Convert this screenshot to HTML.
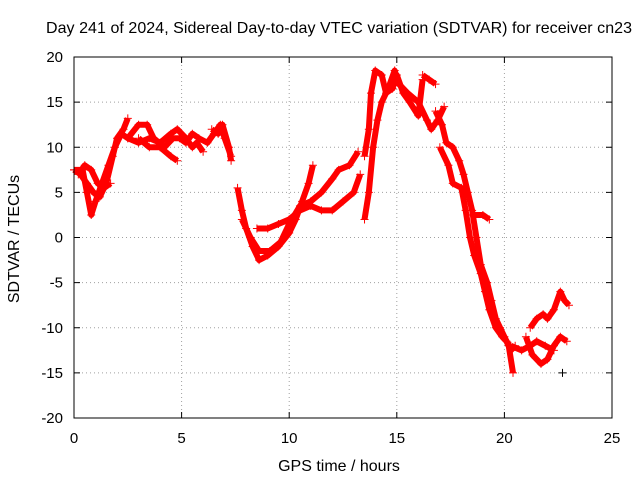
<!DOCTYPE html>
<html><head><meta charset="utf-8"><style>
body{margin:0;background:#fff;}
svg text{font-family:"Liberation Sans",sans-serif;font-size:15px;fill:#000;}
svg text.big{font-size:16px;}
</style></head><body>
<svg id="chart" width="640" height="480">
<rect width="640" height="480" fill="#fff"/>
<text class="big" x="339" y="33" text-anchor="middle" textLength="586">Day 241 of 2024, Sidereal Day-to-day VTEC variation (SDTVAR) for receiver cn23</text>
<text class="big" x="339" y="471" text-anchor="middle">GPS time / hours</text>
<text class="big" transform="translate(19,239) rotate(-90)" text-anchor="middle">SDTVAR / TECUs</text>
<g id="grid"></g><g id="ticks"></g><g id="marks"></g>
<rect x="74" y="57" width="538" height="361" fill="none" stroke="#000"/>
</svg>
<script>
const xTicks=[0,5,10,15,20,25];
const yTicks=[-20,-15,-10,-5,0,5,10,15,20];
const traces=[
[[0,7.5],[0.3,7],[0.6,6],[0.9,5],[1.2,4.5],[1.5,6],[1.8,9],[2.0,11],[2.3,12],[2.5,13.2]],
[[0,7.5],[0.4,7.5],[0.6,5],[0.8,2.5],[1.0,4],[1.3,6],[1.6,8],[1.9,10],[2.2,11.5],[2.5,11],[3,10.5],[3.5,11],[4,10.5],[4.5,11.5],[4.8,12],[5.2,11],[5.5,10],[5.7,10.5],[6,9.5]],
[[0.2,7],[0.5,8],[0.8,7.5],[1.1,6],[1.4,5.5],[1.7,6]],
[[2.5,11],[3,12.5],[3.4,12.5],[3.7,11],[4.2,10],[4.6,11],[4.9,11],[5.2,10.5],[5.5,11.5],[5.8,11],[6.2,10.5],[6.5,11.5],[6.8,12.5],[7.0,11],[7.3,9]],
[[3,11],[3.5,10],[4,10],[4.5,9],[4.8,8.5]],
[[6.4,12],[6.7,11.5],[6.9,12.5],[7.2,10],[7.3,8.5]],
[[7.6,5.5],[7.8,3],[8,1],[8.3,-1],[8.6,-2.5],[9,-2],[9.5,-1],[10,0.5],[10.3,2],[10.6,4],[10.9,6],[11.1,8]],
[[7.8,2],[8.2,0],[8.6,-1.5],[9.1,-1.5],[9.6,-0.5],[10,1.5],[10.5,3.5],[11,4],[11.5,5],[12,6.5],[12.3,7.5],[12.8,8],[13.2,9.5]],
[[8.5,1],[9,1],[9.5,1.5],[10,2],[10.5,3],[11,3.5],[11.5,3],[12,3],[12.5,4],[13,5],[13.3,7]],
[[13.5,9],[13.7,12],[13.8,16],[14,18.5],[14.3,18],[14.5,16],[14.8,16.5],[15,18],[15.3,16],[15.6,15],[16,13.5],[16.2,17.5]],
[[13.5,2],[13.7,5],[13.9,10],[14.1,13],[14.3,15],[14.6,16.5],[14.9,18.5],[15.1,17],[15.5,16],[16,15],[16.4,13],[16.6,12],[16.9,13],[17.2,14.5]],
[[16.2,18],[16.5,17.5],[16.8,17]],
[[16.8,14],[17.1,12.5],[17.3,10.5],[17.6,10],[17.9,8.5],[18.1,7],[18.3,5],[18.5,3],[18.7,0],[18.9,-3],[19.2,-5],[19.4,-7],[19.6,-9],[19.8,-10],[20,-11],[20.2,-12],[20.4,-15]],
[[17,10],[17.4,8],[17.6,6],[18,5.5],[18.2,3],[18.4,0],[18.6,-2],[18.9,-4],[19.1,-6],[19.3,-8],[19.6,-10],[19.9,-11],[20.1,-11.5],[20.3,-12.5],[20.5,-12]],
[[18.5,2.5],[19,2.5],[19.3,2]],
[[21,-11],[21.3,-13],[21.7,-14],[22,-13.5],[22.3,-12],[22.6,-11],[22.9,-11.5]],
[[21.2,-10],[21.5,-9],[21.8,-8.5],[22,-9],[22.3,-8],[22.6,-6],[22.8,-7],[23,-7.5]],
[[20.3,-12],[20.8,-12.5],[21.2,-12],[21.5,-11.5],[21.9,-12],[22.3,-12.5]],
[[22.7,-15]]
];
const NS='http://www.w3.org/2000/svg';
const X0=74,X1=612,Y0=418,Y1=57;
function xs(v){return X0+(v-0)/25*(X1-X0);}
function ys(v){return Y0-(v+20)/40*(Y0-Y1);}
function mk(t,a,p){const e=document.createElementNS(NS,t);for(const k in a)e.setAttribute(k,a[k]);p.appendChild(e);return e;}
const grid=document.getElementById('grid'),ticks=document.getElementById('ticks'),marks=document.getElementById('marks');
xTicks.forEach(t=>{const x=xs(t);
 if(t>0&&t<25){const l=mk('line',{x1:x,x2:x,y1:Y1,y2:Y0,stroke:'#a0a0a0','stroke-dasharray':'1,3'},grid);}
 mk('line',{x1:x,x2:x,y1:Y0,y2:Y0-6,stroke:'#000'},ticks);mk('line',{x1:x,x2:x,y1:Y1,y2:Y1+6,stroke:'#000'},ticks);
 const tx=mk('text',{x:x,y:443,'text-anchor':'middle'},ticks);tx.textContent=t;
 });
yTicks.forEach(t=>{const y=ys(t);
 if(t>-20&&t<20){const l=mk('line',{x1:X0,x2:X1,y1:y,y2:y,stroke:'#a0a0a0','stroke-dasharray':'1,3'},grid);}
 mk('line',{x1:X0,x2:X0+6,y1:y,y2:y,stroke:'#000'},ticks);mk('line',{x1:X1,x2:X1-6,y1:y,y2:y,stroke:'#000'},ticks);
 const tx=mk('text',{x:63,y:y+5,'text-anchor':'end'},ticks);tx.textContent=t;
 });
traces.forEach((tr,i)=>{
 if(tr.length>1){const pl=mk('polyline',{points:tr.map(p=>xs(p[0])+','+ys(p[1])).join(' '),fill:'none',stroke:'#f00','stroke-width':6,'stroke-linejoin':'round'},marks);
 }
 tr.forEach(p=>{const x=xs(p[0]),y=ys(p[1]);
  const c=(i===traces.length-1)?'#000':'#f00';
  const g=mk('path',{d:`M${x-4},${y}H${x+4}M${x},${y-4}V${y+4}`,stroke:c,'stroke-width':1},marks);
  });
});
</script>
</body></html>
